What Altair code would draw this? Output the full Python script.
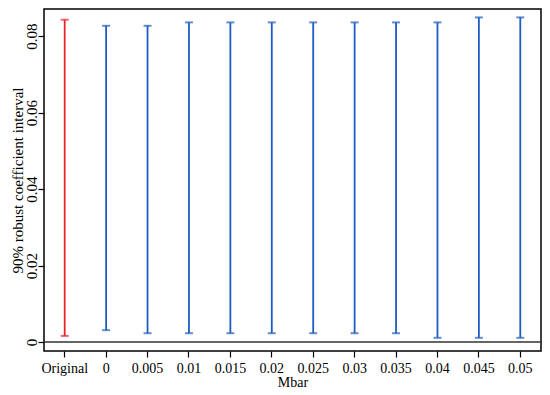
import altair as alt
import pandas as pd

categories = ["Original", "0", "0.005", "0.01", "0.015", "0.02", "0.025",
              "0.03", "0.035", "0.04", "0.045", "0.05"]
lower = [0.0016, 0.0031, 0.0023, 0.0023, 0.0023, 0.0023, 0.0023,
         0.0023, 0.0023, 0.0011, 0.0011, 0.0011]
upper = [0.0843, 0.0827, 0.0827, 0.0836, 0.0836, 0.0836, 0.0836,
         0.0836, 0.0836, 0.0836, 0.0849, 0.0849]
groups = ["Original"] + ["Mbar"] * 11
y_ticks = [0, 0.02, 0.04, 0.06, 0.08]

df = pd.DataFrame({"cat": categories, "lo": lower, "hi": upper, "grp": groups})

FONT = "Liberation Serif"
YTITLE = "90% robust coefficient interval"

x = alt.X("cat:N", sort=categories, title="Mbar",
          scale=alt.Scale(paddingInner=0, paddingOuter=0),
          axis=alt.Axis(labelAngle=0, domain=False, tickColor="black",
                        tickSize=6, tickWidth=1.2, labelPadding=15,
                        labelBaseline="alphabetic", titleBaseline="alphabetic",
                        titleY=35, labelFontSize=14, titleFontSize=14,
                        labelColor="black", titleColor="black",
                        labelFont=FONT, titleFont=FONT, titleFontWeight="normal"))
yscale = alt.Scale(domain=[-0.00235, 0.0871], nice=False, zero=False)
yaxis = alt.Axis(values=y_ticks, format="~g", labelAngle=270, labelAlign="center",
                 labelBaseline="alphabetic", domain=False, grid=False, tickColor="black",
                 tickSize=6, tickWidth=1.2, labelPadding=2,
                 titleAngle=270, titleAlign="center", titleBaseline="alphabetic",
                 titleX=-22, titleY=171,
                 labelFontSize=15, titleFontSize=15, labelColor="black",
                 titleColor="black", labelFont=FONT, titleFont=FONT,
                 titleFontWeight="normal")
color = alt.Color("grp:N", scale=alt.Scale(domain=["Original", "Mbar"],
                                           range=["#e8252b", "#1f5cbf"]), legend=None)

base = alt.Chart(df)
zero = alt.Chart(pd.DataFrame({"z": [0]})).mark_rule(color="#333333", strokeWidth=1.5).encode(
    y=alt.Y("z:Q", scale=yscale, axis=yaxis, title=YTITLE))
rules = base.mark_rule(strokeWidth=1.8).encode(
    x=x, y=alt.Y("lo:Q", scale=yscale, axis=yaxis, title=YTITLE),
    y2="hi:Q", color=color)
cap_lo = base.mark_tick(orient="horizontal", size=8, thickness=2).encode(
    x=x, y=alt.Y("lo:Q", scale=yscale), color=color)
cap_hi = base.mark_tick(orient="horizontal", size=8, thickness=2).encode(
    x=x, y=alt.Y("hi:Q", scale=yscale), color=color)

chart = alt.layer(zero, rules, cap_lo, cap_hi).properties(
    width=497, height=342,
    autosize=alt.AutoSizeParams(type="none"),
    padding={"left": 36, "top": 1, "right": 1, "bottom": 44},
    background="white",
).configure_view(stroke="black", strokeWidth=1.5)

chart.save("out.html", embed_options={"renderer": "svg", "actions": False})
